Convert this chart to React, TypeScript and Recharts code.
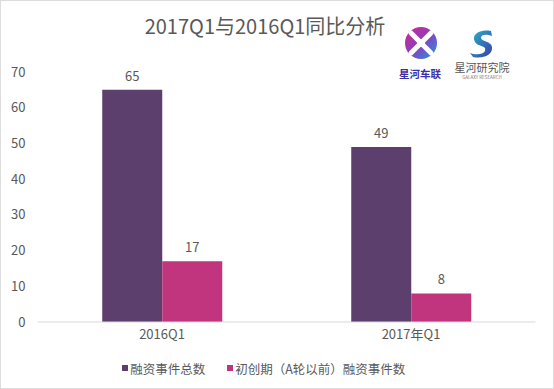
import React from "react";
import { BarChart, Bar, XAxis, YAxis, LabelList, Legend } from "recharts";

const categories = ["2016Q1", "2017年Q1"];
const totalEvents = [65, 49];
const earlyEvents = [17, 8];
const yTicks = [0, 10, 20, 30, 40, 50, 60, 70];
const seriesNames = ["融资事件总数", "初创期（A轮以前）融资事件数"];
const seriesColors = ["#5D3F6E", "#C0357D"];

const data = categories.map((c, i) => ({ name: c, total: totalEvents[i], early: earlyEvents[i] }));

const FONT = "'Noto Sans CJK SC', 'Noto Sans', sans-serif";
const TEXT = "#595959";

const LegendContent = () => (
  <div style={{ display: "flex", justifyContent: "center", alignItems: "center", height: 20, fontFamily: FONT, fontSize: 12.5, color: TEXT, paddingRight: 8 }}>
    {seriesNames.map((n, i) => (
      <span key={n} style={{ display: "inline-flex", alignItems: "center", marginRight: i === 0 ? 22 : 0 }}>
        <span style={{ display: "inline-block", width: 6, height: 6, background: seriesColors[i], marginRight: 2 }} />
        {n}
      </span>
    ))}
  </div>
);

const Logos = () => (
  <svg width={554} height={90} style={{ position: "absolute", left: 0, top: 0 }}>
    <defs>
      <linearGradient id="lg1" x1="0" y1="0" x2="1" y2="1">
        <stop offset="0%" stopColor="#D6248C" />
        <stop offset="50%" stopColor="#8A3FC0" />
        <stop offset="100%" stopColor="#1E9BE0" />
      </linearGradient>
      <linearGradient id="lg2" x1="0" y1="0" x2="1" y2="1">
        <stop offset="0%" stopColor="#27B5C8" />
        <stop offset="100%" stopColor="#3A3FA8" />
      </linearGradient>
    </defs>
    <circle cx={420} cy={42} r={16} fill="url(#lg1)" />
    <path d="M410 32 L430 52 M430 32 L410 52" stroke="#fff" strokeWidth={5} strokeLinecap="round" />
    <circle cx={420} cy={42} r={4} fill="#fff" />
    <text x={419} y={77} textAnchor="middle" fontFamily={FONT} fontWeight={700} fontSize={10.5} fill="#3A2FA8">星河车联</text>
    <path d="M490 30 C478 28 470 34 474 41 C477 46 486 44 484 50 C482 54 474 54 469 52 L472 56 C482 58 492 54 491 46 C490 40 481 41 480 37 C480 33 486 33 491 35 Z" fill="url(#lg2)" />
    <text x={481} y={71} textAnchor="middle" fontFamily={FONT} fontSize={11} fill="#555">星河研究院</text>
    <text x={481} y={78} textAnchor="middle" fontFamily={FONT} fontSize={4.5} fill="#777">GALAXY RESEARCH</text>
  </svg>
);

export default function App() {
  return (
    <div style={{ position: "absolute", left: 0, top: 0, width: 554, height: 389, background: "#fff", border: "1px solid #dcdcdc", boxSizing: "border-box", overflow: "hidden" }}>
      <div style={{ position: "absolute", left: 0, top: 10, width: 528, textAlign: "center", fontFamily: FONT, fontSize: 20, color: TEXT, lineHeight: "30px" }}>
        2017Q1与2016Q1同比分析
      </div>
      <Logos />
      <div style={{ position: "absolute", left: -1, top: -1 }}>
        <BarChart width={554} height={389} data={data} margin={{ top: 72, right: 18.5, bottom: 11, left: 0 }} barCategoryGap="26%" barGap={0}>
          <XAxis dataKey="name" axisLine={{ stroke: "#d9d9d9" }} tickLine={false} tickSize={0} tickMargin={8} height={36} tick={{ fill: TEXT, fontSize: 13, fontFamily: FONT }} />
          <YAxis domain={[0, 70]} ticks={yTicks} width={37.5} axisLine={false} tickLine={false} tickSize={0} tickMargin={12} tick={{ fill: TEXT, fontSize: 13, fontFamily: FONT }} />
          <Legend verticalAlign="bottom" height={20} content={<LegendContent />} />
          <Bar dataKey="total" name={seriesNames[0]} fill={seriesColors[0]} isAnimationActive={false}>
            <LabelList dataKey="total" position="top" offset={9} fill={TEXT} fontSize={13} fontFamily={FONT} />
          </Bar>
          <Bar dataKey="early" name={seriesNames[1]} fill={seriesColors[1]} isAnimationActive={false}>
            <LabelList dataKey="early" position="top" offset={9} fill={TEXT} fontSize={13} fontFamily={FONT} />
          </Bar>
        </BarChart>
      </div>
    </div>
  );
}
